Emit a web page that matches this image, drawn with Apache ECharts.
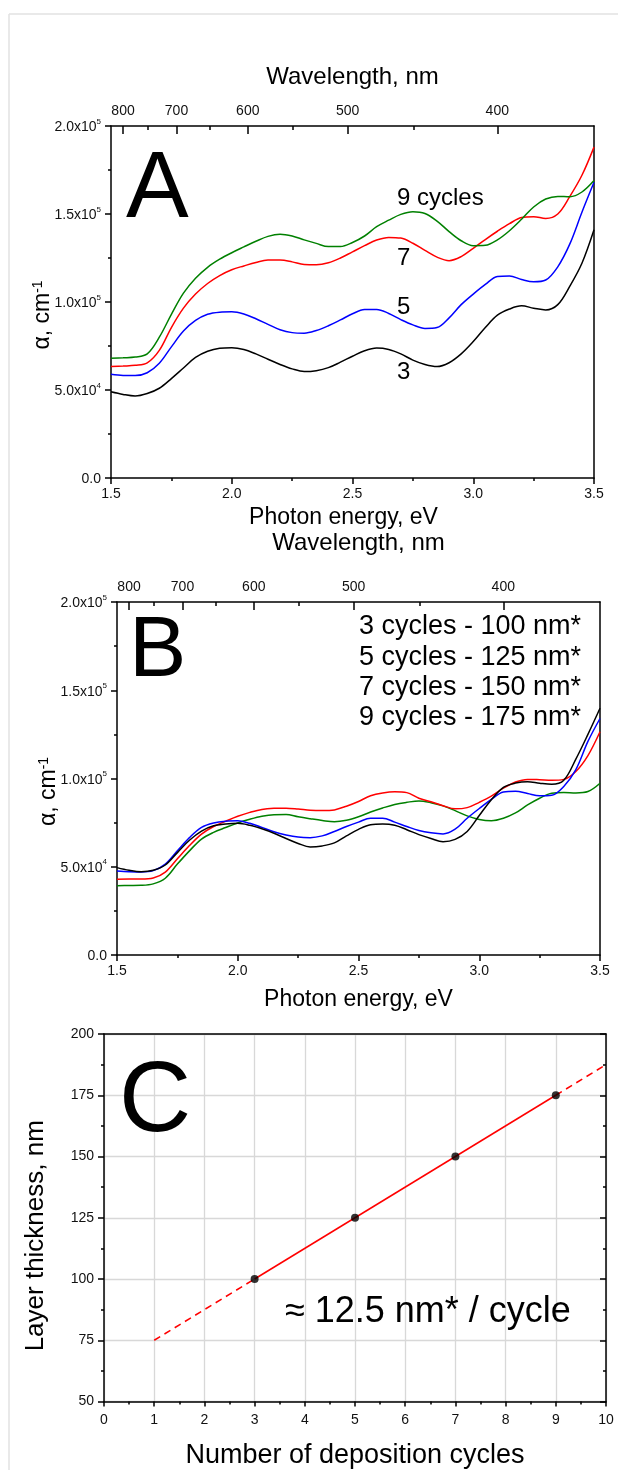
<!DOCTYPE html>
<html><head><meta charset="utf-8">
<script src="https://cdn.jsdelivr.net/npm/echarts@6/dist/echarts.min.js"></script>
<style>html,body{margin:0;padding:0;background:#fff}#c{width:618px;height:1470px}</style>
</head><body><div id="c"></div>
<script>
// ---------- DATA ----------
// photon energy grid (eV)
const energy = [1.50,1.55,1.60,1.65,1.70,1.75,1.80,1.85,1.90,1.95,2.00,2.05,2.10,2.15,2.20,2.25,2.30,2.35,2.40,2.45,2.50,2.55,2.60,2.65,2.70,2.75,2.80,2.85,2.90,2.95,3.00,3.05,3.10,3.15,3.20,3.25,3.30,3.35,3.40,3.45,3.50];
// Panel A: absorption coefficient, units of 10^3 cm^-1
const aCycles3 = [49.0,47.5,46.6,48.0,51.0,56.5,62.5,68.5,72.0,73.7,74.0,73.0,70.5,67.5,64.5,62.0,60.5,61.0,62.7,65.8,69.2,72.3,73.8,73.0,70.5,67.0,64.5,63.3,65.5,70.5,77.5,85.5,92.5,96.0,97.8,96.5,95.5,98.5,109.0,122.0,141.0];
const aCycles5 = [58.9,58.3,58.2,59.8,65.2,74.5,83.5,89.5,93.0,94.2,94.4,93.2,90.5,87.3,84.2,82.6,82.3,83.8,86.5,89.8,93.3,95.7,95.8,93.5,90.0,87.0,85.0,85.5,91.0,98.5,104.5,110.0,114.5,114.8,112.8,111.5,112.5,120.0,133.0,151.0,168.0];
const aCycles7 = [63.3,63.6,64.0,65.4,72.5,85.5,96.5,104.5,110.5,115.0,118.3,120.5,122.5,123.8,123.8,122.8,121.3,121.2,122.3,125.0,128.5,132.0,135.2,136.7,136.3,133.4,129.3,125.5,123.5,125.8,130.5,135.5,140.2,144.5,148.0,148.5,147.5,150.0,160.0,172.0,188.0];
const aCycles9 = [68.0,68.3,68.7,70.5,80.0,93.0,105.0,113.5,119.7,124.3,128.0,131.3,134.5,137.3,138.5,137.5,135.3,133.3,131.5,131.5,133.8,137.5,142.8,146.5,149.8,151.3,150.3,146.0,140.0,134.8,132.0,132.2,135.3,140.5,147.0,154.0,158.5,160.0,159.8,162.5,169.0];
// Panel B: normalized absorption coefficient, units of 10^3 cm^-1
const bCycles3 = [49.5,48.0,47.2,48.0,51.0,58.0,65.0,70.2,73.2,74.2,74.6,73.5,71.5,69.0,66.0,63.2,61.2,61.8,63.5,67.5,71.2,73.8,74.2,73.5,71.0,68.2,66.0,64.2,65.5,70.0,79.0,88.0,95.0,97.4,98.2,97.3,96.7,99.0,111.0,125.0,139.8];
const bCycles5 = [47.6,47.2,47.0,47.8,51.5,59.0,66.5,72.3,74.8,75.8,76.0,74.6,72.3,69.8,68.0,66.8,66.5,67.5,70.0,72.8,75.3,77.5,77.5,75.3,72.8,70.5,69.2,68.6,71.3,77.5,83.0,88.2,92.3,92.8,91.5,90.2,90.5,95.5,105.0,121.0,134.0];
const bCycles7 = [42.9,43.0,43.0,43.6,47.0,54.5,62.0,68.5,72.8,75.8,78.6,80.8,82.5,83.1,83.2,82.7,82.0,81.8,82.2,84.3,87.0,90.2,91.8,92.5,92.0,88.8,86.8,84.6,82.8,83.5,86.5,90.0,94.5,98.0,99.5,99.3,99.0,99.5,104.0,113.0,126.5];
const bCycles9 = [39.3,39.4,39.5,40.3,43.5,51.5,59.0,65.7,69.5,72.2,74.8,76.9,78.6,79.5,79.6,78.3,77.2,76.2,75.5,76.3,78.3,81.0,83.3,85.3,86.5,87.3,86.3,84.5,81.8,78.8,76.8,76.1,77.5,80.5,85.0,88.8,91.7,92.0,91.8,92.6,97.3];
// wavelength ticks (nm) of the top axes
const wavelengthMajor = [800,700,600,500,400];
const wavelengthMinor = [750,650,550,450];
// legend lines of panel B
const legendB = ['3 cycles - 100 nm*','5 cycles - 125 nm*','7 cycles - 150 nm*','9 cycles - 175 nm*'];
// Panel C
const cycles = [3,5,7,9];
const thickness = [100,125,150,175];
const fitSolid = [[3,100],[9,175]];
const fitDashLow = [[1,75],[3,100]];
const fitDashHigh = [[9,175],[10,187.5]];

// ---------- STYLE ----------
const FONT = "'Liberation Sans', Arial, sans-serif";
const BLACK = '#000';
const AX = {show:true, onZero:false, lineStyle:{color:BLACK, width:1.5}};
const NOAX = {show:false, onZero:false};
const TICK = {color:BLACK, width:1.5};
const toEV = l => 1239.84 / l;
const pair = vals => energy.map((e,i)=>[e, vals[i]]);
const supFmt = v => {
  if (v === 0) return '{b|0.0}';
  const n = v * 1000;
  const e = Math.floor(Math.log10(n) + 1e-9);
  const m = n / Math.pow(10, e);
  return '{b|' + m.toFixed(1) + 'x10}{s|' + e + '}';
};
const richSup = {
  b:{fontSize:14, fontFamily:FONT, color:'#111', lineHeight:17, verticalAlign:'bottom'},
  s:{fontSize:8, fontFamily:FONT, color:'#111', lineHeight:8, verticalAlign:'top'}
};
const LBL = 14;

function spectraAxes(gi, gMinor, topGap, bottomGap, bottomPad) {
  const xs = [
    {gridIndex:gi, type:'value', position:'bottom', min:1.5, max:3.5, interval:0.5,
     name:'Photon energy, eV', nameLocation:'middle', nameGap:bottomGap, nameMoveOverlap:false,
     nameTextStyle:{fontSize:23, fontFamily:FONT, color:'#000', padding:[0,bottomPad,0,0]},
     axisLine:AX, axisTick:{show:true, inside:false, length:6, lineStyle:TICK},
     minorTick:{show:true, splitNumber:2, length:3, lineStyle:TICK},
     axisLabel:{fontSize:LBL, fontFamily:FONT, color:'#111', margin:9, formatter:v=>v.toFixed(1)},
     splitLine:{show:false}},
    {gridIndex:gi, type:'value', position:'top', min:1.5, max:3.5,
     name:'Wavelength, nm', nameLocation:'middle', nameGap:topGap, nameMoveOverlap:false,
     nameTextStyle:{fontSize:24, fontFamily:FONT, color:'#000'},
     axisLine:AX,
     axisTick:{show:true, inside:true, length:8, customValues:wavelengthMajor.map(toEV), lineStyle:TICK},
     axisLabel:{show:true, customValues:wavelengthMajor.map(toEV), fontSize:LBL, fontFamily:FONT, color:'#111', margin:8,
       formatter:v=>String(Math.round(1239.84/v))},
     splitLine:{show:false}},
    {gridIndex:gMinor, type:'value', position:'top', min:1.5, max:3.5,
     axisLine:NOAX,
     axisTick:{show:true, inside:true, length:4, customValues:wavelengthMinor.map(toEV), lineStyle:TICK},
     axisLabel:{show:false}, splitLine:{show:false}}
  ];
  const ys = [
    {gridIndex:gi, type:'value', position:'left', min:0, max:200, interval:50,
     name:'α, cm{s|-1}', nameLocation:'middle', nameGap:57, nameMoveOverlap:false,
     nameTextStyle:{fontSize:23, fontFamily:FONT, color:'#000', padding:[0,26,0,0],
       rich:{s:{fontSize:14, fontFamily:FONT, color:'#000', verticalAlign:'top', lineHeight:12}}},
     axisLine:AX, axisTick:{show:true, length:6, lineStyle:TICK},
     minorTick:{show:true, splitNumber:2, length:3, lineStyle:TICK},
     axisLabel:{margin:10, formatter:supFmt, rich:richSup},
     splitLine:{show:false}},
    {gridIndex:gi, type:'value', position:'right', min:0, max:200,
     axisLine:AX, axisTick:{show:false}, axisLabel:{show:false}, splitLine:{show:false}},
    {gridIndex:gMinor, type:'value', show:false, min:0, max:200, axisLine:NOAX}
  ];
  return {xs, ys};
}

const A = spectraAxes(0, 3, 36.5, 28, 18);
const B = spectraAxes(1, 4, 47, 33, 0);
const gridC = '#d8d8d8';
const xC = [
  {gridIndex:2, type:'value', position:'bottom', min:0, max:10, interval:1,
   name:'Number of deposition cycles', nameLocation:'middle', nameGap:40.5, nameMoveOverlap:false,
   nameTextStyle:{fontSize:27, fontFamily:FONT, color:'#000'},
   axisLine:AX, axisTick:{show:true, length:5, lineStyle:TICK},
   minorTick:{show:true, splitNumber:2, length:3, lineStyle:TICK},
   axisLabel:{fontSize:LBL, fontFamily:FONT, color:'#111', margin:12},
   splitLine:{show:true, lineStyle:{color:gridC, width:1.3}}},
  {gridIndex:2, type:'value', position:'top', min:0, max:10,
   axisLine:AX, axisTick:{show:false}, axisLabel:{show:false}, splitLine:{show:false}}
];
const yC = [
  {gridIndex:2, type:'value', position:'left', min:50, max:200, interval:25,
   name:'Layer thickness, nm', nameLocation:'middle', nameGap:55, nameMoveOverlap:false,
   nameTextStyle:{fontSize:26, fontFamily:FONT, color:'#000', padding:[0,36,0,0]},
   axisLine:AX, axisTick:{show:true, length:6, lineStyle:TICK},
   minorTick:{show:true, splitNumber:2, length:3, lineStyle:TICK},
   axisLabel:{fontSize:LBL, fontFamily:FONT, color:'#111', margin:10},
   splitLine:{show:true, lineStyle:{color:gridC, width:1.3}}},
  {gridIndex:2, type:'value', position:'right', min:50, max:200, interval:25,
   axisLine:AX, axisTick:{show:true, inside:true, length:6, lineStyle:TICK},
   minorTick:{show:true, splitNumber:2, length:3, lineStyle:TICK},
   axisLabel:{show:false}, splitLine:{show:false}}
];
// axis index bookkeeping
// xAxis: A:0,1,2  B:3,4,5  C:6,7 ; yAxis: A:0,1,2  B:3,4,5  C:6,7

function curve(name, xi, yi, vals, color) {
  return {name, type:'line', xAxisIndex:xi, yAxisIndex:yi, data:pair(vals),
    smooth:0.35, showSymbol:false, lineStyle:{color, width:1.5}, itemStyle:{color}, silent:true};
}
const COLORS = {c3:'#000000', c5:'#0000ff', c7:'#ff0000', c9:'#008000'};

const series = [
  curve('A3',0,0,aCycles3,COLORS.c3), curve('A5',0,0,aCycles5,COLORS.c5),
  curve('A7',0,0,aCycles7,COLORS.c7), curve('A9',0,0,aCycles9,COLORS.c9),
  curve('B9',3,3,bCycles9,COLORS.c9), curve('B7',3,3,bCycles7,COLORS.c7),
  curve('B5',3,3,bCycles5,COLORS.c5), curve('B3',3,3,bCycles3,COLORS.c3),
  {type:'line', xAxisIndex:6, yAxisIndex:6, data:fitSolid, showSymbol:false, lineStyle:{color:'#ff0000', width:1.5}, silent:true},
  {type:'line', xAxisIndex:6, yAxisIndex:6, data:fitDashLow, showSymbol:false, lineStyle:{color:'#ff0000', width:1.5, type:[7,5]}, silent:true},
  {type:'line', xAxisIndex:6, yAxisIndex:6, data:fitDashHigh, showSymbol:false, lineStyle:{color:'#ff0000', width:1.5, type:[7,5]}, silent:true},
  {type:'scatter', xAxisIndex:6, yAxisIndex:6, data:cycles.map((c,i)=>[c, thickness[i]]), symbolSize:8, itemStyle:{color:'#000'}, z:5, silent:true}
];

const txt = (x, y, text, size) => ({type:'text', x, y, z:100,
  style:{text, fontSize:size, fontFamily:FONT, fill:'#000', textVerticalAlign:'middle', textAlign:'left'}});

const graphic = [
  {type:'line', shape:{x1:9, y1:14, x2:618, y2:14}, style:{stroke:'#e2e2e2', lineWidth:1.5}},
  {type:'line', shape:{x1:9, y1:14, x2:9, y2:1470}, style:{stroke:'#e2e2e2', lineWidth:1.5}},
  txt(126, 191, 'A', 94),
  txt(397, 198, '9 cycles', 24),
  txt(397, 258, '7', 24),
  txt(397, 307, '5', 24),
  txt(397, 372, '3', 24),
  txt(129, 652, 'B', 86),
  txt(359, 627, legendB[0], 27),
  txt(359, 657.5, legendB[1], 27),
  txt(359, 688, legendB[2], 27),
  txt(359, 718, legendB[3], 27),
  txt(119, 1103, 'C', 100),
  txt(285, 1312, '≈ 12.5 nm* / cycle', 36)
];

const option = {
  animation:false,
  backgroundColor:'#fff',
  textStyle:{fontFamily:FONT},
  grid:[
    {left:111, top:126, width:483, height:352},
    {left:117, top:602, width:483, height:353},
    {left:104, top:1034, width:502, height:369},
    {left:111, top:126, width:483, height:352},
    {left:117, top:602, width:483, height:353}
  ],
  xAxis:[...A.xs, ...B.xs, ...xC],
  yAxis:[...A.ys, ...B.ys, ...yC],
  series,
  graphic
};
const chart = echarts.init(document.getElementById('c'), null, {renderer:'canvas'});
chart.setOption(option);
</script>
</body></html>
